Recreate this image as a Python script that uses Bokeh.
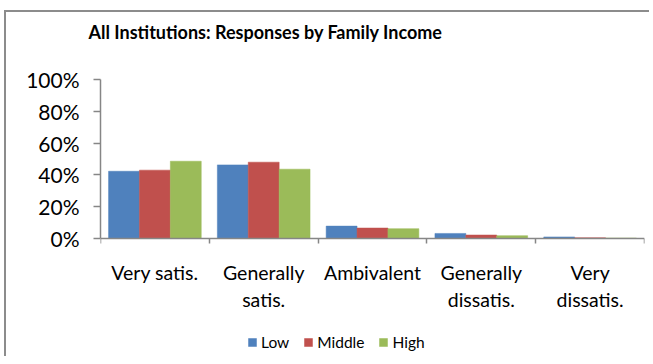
from bokeh.plotting import figure
from bokeh.models import (Range1d, FixedTicker, NumeralTickFormatter, Legend,
                          LegendItem, ColumnDataSource, Title)
from bokeh.embed import file_html
from bokeh.resources import INLINE

# Survey responses (share of respondents) by family income group
categories = ["Very satis.", "Generally\nsatis.", "Ambivalent",
              "Generally\ndissatis.", "Very\ndissatis."]
series_names = ["Low", "Middle", "High"]
low = [0.423, 0.463, 0.078, 0.032, 0.010]
middle = [0.430, 0.480, 0.066, 0.022, 0.005]
high = [0.486, 0.436, 0.062, 0.018, 0.003]
y_ticks = [0.0, 0.2, 0.4, 0.6, 0.8, 1.0]

colors = ["#4F81BD", "#C0504D", "#9BBB59"]
FONT = "Lato"
AXIS_GRAY = "#868686"
BORDER_GRAY = "#8c8c8c"

# The frame reaches down past the category labels so the legend can sit
# inside it; the value axis is bounded to 0-100 % and the category axis is
# pinned at zero.
p = figure(width=645, height=346, output_backend="svg", toolbar_location=None,
           x_range=Range1d(0, len(categories)), y_range=Range1d(-0.742, 1.0),
           min_border_left=94, min_border_right=7, min_border_top=67,
           min_border_bottom=2, margin=(10, 0, 0, 4),
           title="All Institutions: Responses by Family Income")
p.styles = {"border-left": f"2px solid {BORDER_GRAY}",
            "border-top": f"2px solid {BORDER_GRAY}"}

p.title.text_font = FONT
p.title.text_font_size = "18px"
p.title.text_font_style = "bold"
p.title.text_color = "#000000"
p.title.align = "left"
p.title.offset = -12
p.title.standoff = 0
# blank band between the heading and the plotting area
p.add_layout(Title(text=" ", text_font_size="1px", standoff=34), "above")

p.outline_line_color = None
p.xgrid.visible = False
p.ygrid.visible = False
p.background_fill_color = None
p.border_fill_color = None

centers = [i + 0.5 for i in range(len(categories))]
bar_w = 0.284
renderers = []
for k, (name, vals) in enumerate(zip(series_names, [low, middle, high])):
    src = ColumnDataSource(dict(x=[c + (k - 1) * bar_w for c in centers], top=vals))
    r = p.vbar(x="x", top="top", width=bar_w, bottom=0, source=src,
               fill_color=colors[k], line_color=colors[k], line_width=0.5)
    renderers.append((name, r))

# y axis: percent scale with outward ticks
p.yaxis.ticker = FixedTicker(ticks=y_ticks)
p.yaxis.bounds = (0, 1)
p.yaxis.formatter = NumeralTickFormatter(format="0%")
p.yaxis.axis_line_color = AXIS_GRAY
p.yaxis.axis_line_width = 1.5
p.yaxis.major_tick_line_color = AXIS_GRAY
p.yaxis.major_tick_line_width = 1.5
p.yaxis.major_tick_out = 7
p.yaxis.major_tick_in = 0
p.yaxis.minor_tick_line_color = None
p.yaxis.major_label_standoff = 14
p.yaxis.major_label_text_font = FONT
p.yaxis.major_label_text_font_size = "21px"
p.yaxis.major_label_text_color = "#000000"

# x axis: category names centred, small ticks at category boundaries
p.xaxis.fixed_location = 0
p.xaxis.ticker = FixedTicker(ticks=centers,
                             minor_ticks=list(range(len(categories) + 1)))
p.xaxis.major_label_overrides = {c: lab for c, lab in zip(centers, categories)}
p.xaxis.axis_line_color = AXIS_GRAY
p.xaxis.axis_line_width = 1.5
p.xaxis.major_tick_line_color = None
p.xaxis.minor_tick_line_color = AXIS_GRAY
p.xaxis.minor_tick_line_width = 1.5
p.xaxis.minor_tick_out = 5
p.xaxis.minor_tick_in = 0
p.xaxis.major_label_standoff = 16
p.xaxis.major_label_text_font = FONT
p.xaxis.major_label_text_font_size = "19.5px"
p.xaxis.major_label_text_color = "#000000"

legend = Legend(items=[LegendItem(label=n, renderers=[r]) for n, r in renderers],
                orientation="horizontal", location=(147, 5),
                glyph_width=10, glyph_height=10, label_standoff=4, spacing=14,
                padding=0, margin=0, label_text_font=FONT,
                label_text_font_size="15.5px", label_text_color="#000000",
                background_fill_alpha=0, border_line_color=None)
p.add_layout(legend, "center")

open("out.html", "w").write(file_html(p, INLINE))
